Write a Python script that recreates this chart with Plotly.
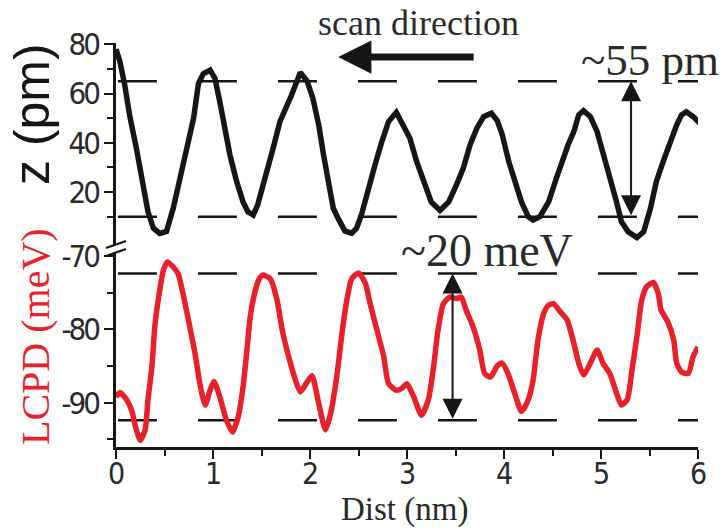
import plotly.graph_objects as go

# ---- data ----
dist_z = [0.00, 0.04, 0.09, 0.14, 0.21, 0.28, 0.33, 0.385, 0.45, 0.52, 0.59, 0.66, 0.73, 0.80, 0.85,
          0.90, 0.97, 1.02, 1.07, 1.12, 1.175, 1.244, 1.31, 1.36, 1.415, 1.46, 1.53, 1.62, 1.69, 1.74,
          1.81, 1.90, 1.97, 2.03, 2.09, 2.14, 2.19, 2.24, 2.29, 2.36, 2.43, 2.48, 2.53, 2.60, 2.67,
          2.74, 2.81, 2.89, 2.96, 3.03, 3.10, 3.17, 3.25, 3.34, 3.43, 3.51, 3.58, 3.65, 3.72, 3.79,
          3.87, 3.93, 3.98, 4.05, 4.12, 4.18, 4.25, 4.30, 4.37, 4.46, 4.54, 4.61, 4.66, 4.72, 4.77,
          4.82, 4.89, 4.96, 5.03, 5.09, 5.16, 5.21, 5.28, 5.37, 5.44, 5.51, 5.57, 5.64, 5.71, 5.78,
          5.83, 5.88, 5.95, 6.02]
z_pm = [78, 73, 63.5, 51.3, 37.8, 24.2, 12, 5.3, 3.2, 4, 13.4, 25.6, 37.8, 50, 64,
        68, 69.5, 66.2, 56.7, 45.9, 35, 24.2, 16, 12, 10.7, 14.7, 24.2, 37.8, 48.6, 52.6,
        59.4, 68.5, 65, 58, 47.2, 35, 24.2, 13.4, 9.3, 4.2, 3.2, 5.3, 10.7, 21.5, 31,
        40.4, 48.6, 52.3, 47.2, 41.8, 32.3, 24.2, 16, 12.5, 16, 22.9, 29.6, 39.1, 45.9, 50.6,
        52, 49, 43.5, 32.3, 24.2, 16, 10, 8.6, 10, 16, 25.6, 33.7, 39.1, 44.5, 51.3,
        53, 50.6, 44.5, 35, 25.6, 16, 8, 3.9, 1.5, 3.9, 13.4, 24.2, 32.3, 40.4, 47.2,
        51.3, 52.6, 50.6, 47.9]

dist_l = [0.00, 0.04, 0.11, 0.16, 0.21, 0.25, 0.30, 0.33, 0.37, 0.40, 0.44, 0.49, 0.53, 0.59, 0.64,
          0.69, 0.76, 0.815, 0.87, 0.92, 0.97, 1.01, 1.07, 1.14, 1.20, 1.26, 1.31, 1.35, 1.38, 1.42,
          1.47, 1.51, 1.59, 1.66, 1.72, 1.79, 1.85, 1.90, 1.96, 2.02, 2.09, 2.16, 2.22, 2.28, 2.33,
          2.38, 2.43, 2.50, 2.57, 2.62, 2.69, 2.76, 2.81, 2.89, 2.95, 3.00, 3.07, 3.15, 3.22, 3.27,
          3.32, 3.375, 3.44, 3.51, 3.56, 3.61, 3.68, 3.75, 3.80, 3.86, 3.93, 3.98, 4.04, 4.11, 4.18,
          4.25, 4.30, 4.35, 4.41, 4.46, 4.51, 4.58, 4.65, 4.72, 4.77, 4.82, 4.89, 4.96, 5.02, 5.09,
          5.16, 5.21, 5.27, 5.32, 5.37, 5.42, 5.47, 5.54, 5.59, 5.62, 5.69, 5.75, 5.78, 5.83, 5.90,
          5.95, 6.00]
lcpd_mev = [-89.2, -88.6, -89.6, -91, -93.7, -95.1, -93.7, -89.6, -85.1, -79.6, -75.6, -71.9, -70.8, -71.5, -72.4,
            -75.1, -79.6, -83.3, -87.8, -90.3, -88.3, -87.1, -89.2, -92.4, -94, -91.9, -87.8, -82.8, -78.7, -75.6,
            -73.3, -72.6, -73.1, -76, -80.5, -84.2, -86.9, -88.5, -87.4, -86.3, -90.1, -93.7, -91, -86, -80.5,
            -76, -73.1, -72.3, -73.7, -76.5, -80.1, -83.7, -87.4, -88.3, -88, -87.4, -89.2, -91.7, -89.6, -85.5,
            -80.1, -76.5, -75.6, -75.8, -75.6, -77.4, -79.6, -82.8, -86, -86.5, -85, -84.6, -86, -88.7, -91.2,
            -89.6, -86.9, -81.5, -77.8, -76.7, -76.5, -77.6, -78.7, -81.9, -84.6, -86.2, -84.6, -82.8, -84.6, -86,
            -88.7, -90.3, -89.6, -85.5, -81, -76, -74.2, -73.6, -75.1, -77.4, -79, -81.5, -84.6, -85.8, -86,
            -83.7, -82.4]

z_levels = [65, 10]          # dashed reference levels (pm)
lcpd_levels = [-72.4, -92.4]  # dashed reference levels (meV)
z_arrow_x = 5.31
lcpd_arrow_x = 3.47
scan_arrow_tip_x = 2.29

x_ticks = [0, 1, 2, 3, 4, 5, 6]
x_ticktext = ["0", "1", "2", "3", "4", "5", "6"]
x_minor = [0.5, 1.5, 2.5, 3.5, 4.5, 5.5]
z_ticks = [20, 40, 60, 80]
z_ticktext = ["20", "40", "60", "80"]
z_minor = [10, 30, 50, 70]
l_ticks = [-90, -80, -70]
l_ticktext = ["-90", "-80", "-70"]
l_minor = [-95, -85, -75]

BLACK = "#161616"
RED = "#e8202a"
TEXT = "#2a2a2a"
TICKFAMILY = "Liberation Sans Narrow, DejaVu Sans Condensed, Liberation Sans, Arial, sans-serif"
TICKFONT = dict(family=TICKFAMILY, size=31, color=TEXT)
XTICKFONT = dict(family=TICKFAMILY, size=30, color=TEXT)
SERIF = "Liberation Serif, Times New Roman, serif"


def narrow(labels):
    # tighten the tick labels to mimic the condensed face of the reference
    return [f'<span style="letter-spacing:-3px">{t}</span>' for t in labels]


fig = go.Figure()
fig.add_trace(go.Scatter(x=dist_z, y=z_pm, mode="lines", xaxis="x", yaxis="y",
                         line=dict(color=BLACK, width=5.5), hoverinfo="skip", showlegend=False))
fig.add_trace(go.Scatter(x=dist_l, y=lcpd_mev, mode="lines", xaxis="x", yaxis="y2",
                         line=dict(color=RED, width=5.5, shape="spline", smoothing=0.6),
                         hoverinfo="skip", showlegend=False))

axis_common = dict(showgrid=False, zeroline=False, showline=True, linecolor=BLACK, linewidth=2.5,
                   ticks="outside", tickcolor=BLACK, tickwidth=2, ticklen=9, tickfont=TICKFONT)

fig.update_layout(
    width=724, height=530,
    margin=dict(l=116, r=26, t=43, b=83),
    paper_bgcolor="white", plot_bgcolor="white",
    xaxis=dict(**axis_common, range=[0, 6], anchor="y2", tickvals=x_ticks, showticklabels=False,
               minor=dict(tickvals=x_minor, ticks="outside", ticklen=6, tickwidth=2, tickcolor=BLACK)),
    yaxis=dict(**axis_common, domain=[0.5, 1.0], range=[-1.5, 80.5], anchor="x", tickvals=z_ticks,
               ticktext=narrow(z_ticktext),
               minor=dict(tickvals=z_minor, ticks="outside", ticklen=6, tickwidth=2, tickcolor=BLACK)),
    yaxis2=dict(**axis_common, domain=[0.0, 0.5], range=[-96.03, -68.5], anchor="x",
                tickvals=l_ticks, ticktext=narrow(l_ticktext),
                minor=dict(tickvals=l_minor, ticks="outside", ticklen=6, tickwidth=2, tickcolor=BLACK)),
)

# dashed reference lines
shapes = []
for lv in z_levels:
    shapes.append(dict(type="line", xref="x", yref="y", x0=0.02, x1=6, y0=lv, y1=lv,
                       line=dict(color=BLACK, width=2.5, dash="39px,41px"), layer="below"))
for lv in lcpd_levels:
    shapes.append(dict(type="line", xref="x", yref="y2", x0=0.02, x1=6, y0=lv, y1=lv,
                       line=dict(color=BLACK, width=2.5, dash="39px,41px"), layer="below"))


# helpers converting picture pixels to paper fractions (for decorations only)
def px(xp):
    return (xp - 116) / 582.0


def py(yp):
    return (447 - yp) / 404.0


# axis break mark on the left spine
shapes.append(dict(type="path", xref="paper", yref="paper",
                   path=f"M{px(107)},{py(248.5)} L{px(125)},{py(242)} L{px(125)},{py(249.5)} L{px(107)},{py(256)} Z",
                   fillcolor="white", line=dict(width=0), layer="above"))
shapes.append(dict(type="line", xref="paper", yref="paper", x0=px(106), x1=px(126), y0=py(248), y1=py(241),
                   line=dict(color=BLACK, width=2.2)))
shapes.append(dict(type="line", xref="paper", yref="paper", x0=px(106), x1=px(126), y0=py(256), y1=py(249),
                   line=dict(color=BLACK, width=2.2)))
fig.update_layout(shapes=shapes)

annotations = []
# x tick labels placed just below the axis
for v, t in zip(x_ticks, x_ticktext):
    annotations.append(dict(text=t, xref="x", yref="paper", x=v, y=py(473), showarrow=False,
                            font=XTICKFONT, xanchor="center", yanchor="middle", borderpad=0))

annotations += [
    # axis titles
    dict(text="z (pm)", xref="paper", yref="paper", x=px(32), y=py(114), textangle=-90,
         showarrow=False, font=dict(family="Liberation Sans, Arial, sans-serif", size=50, color=BLACK),
         xanchor="center", yanchor="middle"),
    dict(text="LCPD (meV)", xref="paper", yref="paper", x=px(35), y=py(337), textangle=-90,
         showarrow=False, font=dict(family=SERIF, size=40, color=RED), xanchor="center", yanchor="middle"),
    dict(text="Dist (nm)", xref="paper", yref="paper", x=px(404), y=py(510), showarrow=False,
         font=dict(family=SERIF, size=33, color=TEXT), xanchor="center", yanchor="middle", borderpad=0),
    # labels
    dict(text="scan direction", xref="paper", yref="paper", x=px(418), y=py(23), showarrow=False,
         font=dict(family=SERIF, size=36, color=TEXT), xanchor="center", yanchor="middle"),
    dict(text="~55 pm", xref="paper", yref="paper", x=px(650), y=py(60), showarrow=False,
         font=dict(family=SERIF, size=45, color=TEXT), xanchor="center", yanchor="middle"),
    dict(text="~20 meV", xref="paper", yref="paper", x=px(487), y=py(250), showarrow=False,
         font=dict(family=SERIF, size=46, color=TEXT), xanchor="center", yanchor="middle"),
    # scan direction arrow
    dict(text="", xref="x", yref="paper", x=scan_arrow_tip_x, y=py(57), ax=137, ay=0,
         axref="pixel", ayref="pixel", showarrow=True, arrowhead=2, arrowsize=0.95, arrowwidth=7,
         arrowcolor=BLACK, standoff=0),
    # double arrows
    dict(text="", xref="x", yref="y", x=z_arrow_x, y=z_levels[0], axref="x", ayref="y",
         ax=z_arrow_x, ay=z_levels[1], showarrow=True, arrowside="end+start",
         arrowhead=2, startarrowhead=2, arrowsize=2, startarrowsize=2, arrowwidth=2,
         arrowcolor=BLACK, standoff=0, startstandoff=0),
    dict(text="", xref="x", yref="y2", x=lcpd_arrow_x, y=lcpd_levels[0], axref="x", ayref="y2",
         ax=lcpd_arrow_x, ay=lcpd_levels[1], showarrow=True, arrowside="end+start",
         arrowhead=2, startarrowhead=2, arrowsize=2, startarrowsize=2, arrowwidth=2,
         arrowcolor=BLACK, standoff=0, startstandoff=0),
]
fig.update_layout(annotations=annotations)

fig.write_html("out.html", config={"displayModeBar": False})
